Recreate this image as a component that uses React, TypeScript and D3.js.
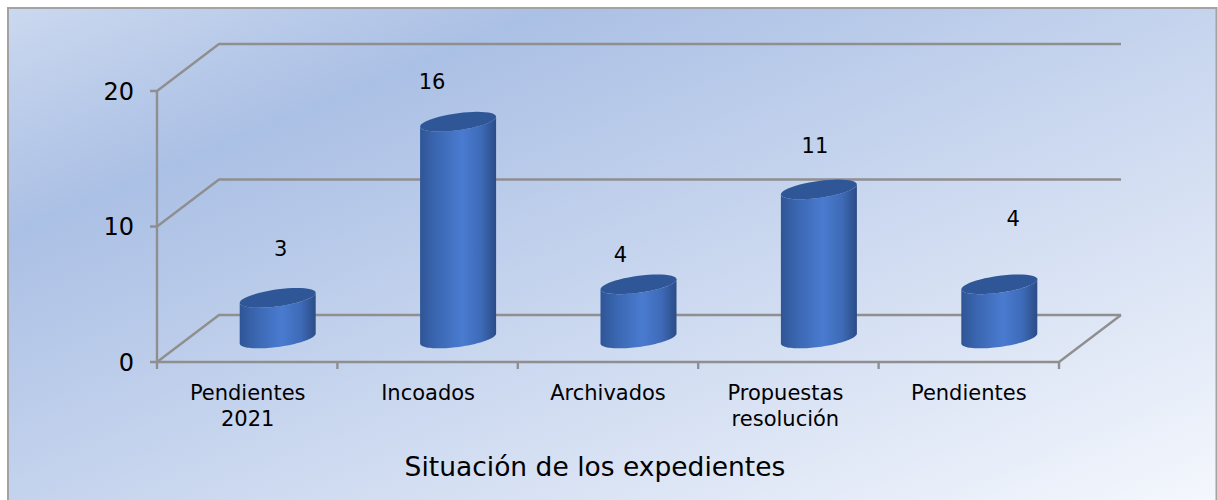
import React from "react";
import * as d3 from "d3";

const categories: string[][] = [["Pendientes", "2021"], ["Incoados"], ["Archivados"], ["Propuestas", "resolución"], ["Pendientes"]];
const values = [3, 16, 4, 11, 4];
const yTicks = [0, 10, 20];
const axisTitle = "Situación de los expedientes";

const W = 1218, H = 500;
const FONT = "Verdana, 'DejaVu Sans', sans-serif";
const LINE = "#8f8f8f";
const plot = { left: 157, right: 1059, bottom: 362, top: 91, dx: 62, dy: -47 };
const barRx = 38, topTilt = 5, topRy = 8.5;
// manual offsets from each cylinder's top centre, and for the category labels
const labelNudge = [[3, -49], [-26, -40], [-18, -30], [-4, -44], [14, -66]];
const categoryNudge = [0.5, 0.5, 0, -3, 0];

const keys = d3.range(categories.length).map(String);
const x = d3.scaleBand<string>().domain(keys).range([plot.left, plot.right]);
const y = d3.scaleLinear().domain([0, 20]).range([plot.bottom, plot.top]);

function curve(cx: number, cy: number, from: number, to: number, n = 48): [number, number][] {
  return d3.range(n + 1).map(i => {
    const t = from + ((to - from) * i) / n;
    return [cx + barRx * Math.cos(t), cy - topTilt * Math.cos(t) + topRy * Math.sin(t)];
  });
}
const pathOf = d3.line();

export default function App() {
  const offX = plot.dx / 2 - 0.5, offY = plot.dy / 2;
  return (
    <svg width={W} height={H} style={{ position: "absolute", left: 0, top: 0 }} fontFamily={FONT}>
      <defs>
        <linearGradient id="bg" gradientUnits="userSpaceOnUse" x1="8" y1="8" x2="362" y2="857">
          <stop offset="0" stopColor="#cbd8ef" />
          <stop offset="0.228" stopColor="#abc0e5" />
          <stop offset="1" stopColor="#f4f7fd" />
        </linearGradient>
        <linearGradient id="cyl" x1="0" x2="1" y1="0" y2="0">
          <stop offset="0" stopColor="#2f5596" />
          <stop offset="0.2" stopColor="#3a66b0" />
          <stop offset="0.55" stopColor="#4a7bd0" />
          <stop offset="0.8" stopColor="#3e6bb8" />
          <stop offset="1" stopColor="#2b4c86" />
        </linearGradient>
      </defs>
      <rect x={8} y={8} width={1208.5} height={520} fill="url(#bg)" stroke="#a3a3a3" strokeWidth={2} />

      <g stroke={LINE} strokeWidth={2.4} fill="none">
        {yTicks.map(t => (
          <path key={t} d={`M${plot.left - 7},${y(t)}H${plot.left}L${plot.left + plot.dx},${y(t) + plot.dy}H${plot.right + plot.dx}`} />
        ))}
        <path d={`M${plot.left},${y(20)}V${y(0)}H${plot.right}L${plot.right + plot.dx},${y(0) + plot.dy}`} />
        {[...keys.map(k => x(k)!), plot.right].map((v, i) => (
          <path key={i} d={`M${v},${y(0)}v7`} />
        ))}
      </g>

      {yTicks.map(t => (
        <text key={t} x={134} y={y(t)} dy="0.36em" fontSize={24} textAnchor="end" fill="#000">{t}</text>
      ))}

      {values.map((v, i) => {
        const cx = x(String(i))! + x.bandwidth() / 2 + offX;
        const topY = y(v) + offY;
        const baseY = y(0) + offY;
        const top = curve(cx, topY, Math.PI, Math.PI * 3);
        const lower = curve(cx, baseY, Math.PI, 0);
        const upper = curve(cx, topY, 0, Math.PI);
        const body = pathOf([...lower, ...upper]) + "Z";
        return (
          <g key={i}>
            <path d={body} fill="url(#cyl)" />
            <path d={pathOf(top)! + "Z"} fill="#2f5697" />
            <text x={cx + labelNudge[i][0]} y={topY + labelNudge[i][1]} dy="0.36em" textAnchor="middle" fontSize={21} fill="#000">{v}</text>
          </g>
        );
      })}

      {categories.map((lines, i) => (
        <text key={i} textAnchor="middle" fontSize={21} fill="#000">
          {lines.map((l, j) => (
            <tspan key={j} x={x(String(i))! + x.bandwidth() / 2 + categoryNudge[i]} y={400 + j * 26}>{l}</tspan>
          ))}
        </text>
      ))}
      <text x={595} y={476} textAnchor="middle" fontSize={26.5} fill="#000">{axisTitle}</text>
    </svg>
  );
}
